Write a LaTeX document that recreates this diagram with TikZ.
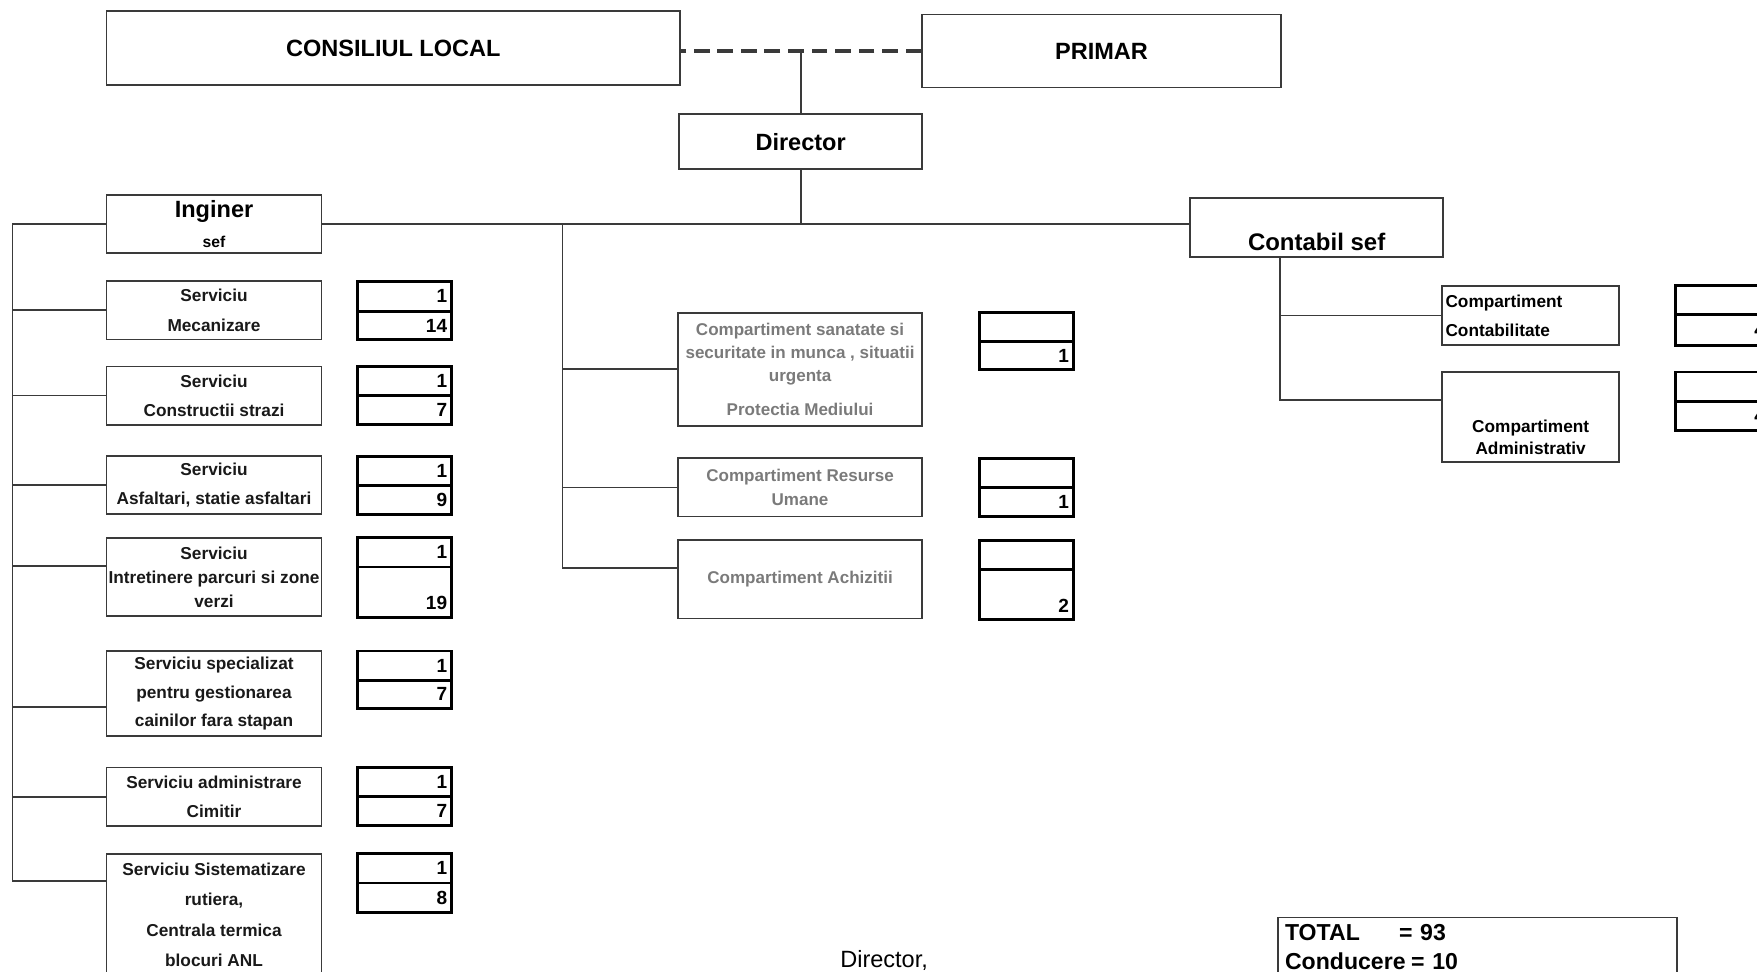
\documentclass[tikz,border=0pt]{standalone}
\usepackage{fontspec}
\setmainfont{Liberation Sans}
\usetikzlibrary{positioning}
\definecolor{linegray}{HTML}{3A3A3A}
\definecolor{txtgray}{HTML}{7A7A7A}
\begin{document}
\begin{tikzpicture}[x=0.5pt, y=-0.5pt, node distance=0pt,
  box/.style={draw=linegray, line width=0.8pt, inner sep=1pt, align=center},
  head/.style={box, font=\fontsize{10.5}{13}\selectfont\bfseries},
  serv/.style={box, inner xsep=0.5pt, minimum width=96pt, text=black!90, font=\fontsize{7.7}{13}\selectfont\bfseries},
  comp/.style={box, minimum width=109pt, text=txtgray, font=\fontsize{7.6}{10.3}\selectfont\bfseries},
  cell/.style={draw=black, line width=1.3pt, outer sep=0pt, inner sep=0pt, minimum width=42pt, minimum height=#1, text width=38pt, align=right, font=\fontsize{8.5}{10}\selectfont\bfseries},
  link/.style={draw=linegray, line width=0.8pt}]
\useasboundingbox (0,0) rectangle (1568,867);

\node[head, minimum width=256pt, minimum height=33pt] (consiliu) at (351,43) {CONSILIUL LOCAL};
\node[head, minimum width=160pt, minimum height=32.5pt] (primar) at (983,45.5) {PRIMAR};
\node[head, minimum width=108.5pt, minimum height=24.5pt] (director) at (714.5,126.5) {Director};
\node[head, minimum width=96pt, minimum height=26pt] (inginer) at (191,200) {Inginer\\{\fontsize{7}{8}\selectfont sef}};
\node[head, font=\fontsize{10.7}{12}\selectfont\bfseries, minimum width=113pt, minimum height=26pt, text height=20.5pt, text depth=0pt] (contabil) at (1175,203) {Contabil sef};

\draw[link, line width=1.5pt, dash pattern=on 7pt off 3.5pt] (primar.west) -- (primar.west -| consiliu.east);
\draw[link] (director.north) -- (director.north |- primar.west);
\draw[link] (director.south) -- (director.south |- inginer.east);
\draw[link] (inginer.east) -- (inginer.east -| contabil.west);

\node[serv, minimum height=26pt] (mecan) at (191,277) {Serviciu\\Mecanizare};
\node[serv, minimum height=26pt] (constr) at (191,353) {Serviciu\\Constructii strazi};
\node[serv, minimum height=26pt] (asfalt) at (191,433) {Serviciu\\Asfaltari, statie asfaltari};
\node[serv, minimum height=35pt, font=\fontsize{7.7}{10.75}\selectfont\bfseries] (intret) at (191,515) {Serviciu\\Intretinere parcuri si zone\\verzi};
\node[serv, minimum height=38pt, font=\fontsize{7.7}{12.75}\selectfont\bfseries] (caini) at (191,619) {Serviciu specializat\\pentru gestionarea\\cainilor fara stapan};
\node[serv, minimum height=26pt] (cimitir) at (191,711) {Serviciu administrare\\Cimitir};
\node[serv, minimum height=54.5pt, font=\fontsize{7.7}{13.5}\selectfont\bfseries] (sistem) at (191,816.5) {Serviciu Sistematizare\\rutiera,\\Centrala termica\\blocuri ANL};

\coordinate (lsp) at ([xshift=-41.5pt]inginer.west);
\coordinate (intretIn) at ([yshift=5pt]intret.west);
\coordinate (cainiIn) at ([yshift=-6pt]caini.west);
\coordinate (sistemIn) at ([yshift=15.25pt]sistem.west);
\draw[link] (inginer.west) -- (lsp) |- (sistemIn);
\draw[link] (lsp |- mecan.west) -- (mecan.west);
\draw[link] (lsp |- constr.west) -- (constr.west);
\draw[link] (lsp |- asfalt.west) -- (asfalt.west);
\draw[link] (lsp |- intretIn) -- (intretIn);
\draw[link] (lsp |- cainiIn) -- (cainiIn);
\draw[link] (lsp |- cimitir.west) -- (cimitir.west);

\node[cell=13.5pt] (c1a) at (361,264.5) {1};
\node[cell=12.5pt, below=of c1a] (c1b) {14};
\node[cell=13pt] (c2a) at (361,340) {1};
\node[cell=13pt, below=of c2a] (c2b) {7};
\node[cell=13pt] (c3a) at (361,420) {1};
\node[cell=13pt, below=of c3a] (c3b) {9};
\node[cell=13pt] (c4a) at (361,493) {1};
\node[cell=22.5pt, below=of c4a, text height=15.5pt, text depth=0pt] (c4b) {19};
\node[cell=13pt] (c5a) at (361,594) {1};
\node[cell=12.5pt, below=of c5a] (c5b) {7};
\node[cell=13pt] (c6a) at (361,698) {1};
\node[cell=13pt, below=of c6a] (c6b) {7};
\node[cell=13pt] (c7a) at (361,775) {1};
\node[cell=13pt, below=of c7a] (c7b) {8};

\node[comp, minimum height=50.5pt] (sanat) at (714,329.5) {Compartiment sanatate si\\securitate in munca , situatii\\urgenta\\[4.75pt]Protectia Mediului};
\node[comp, minimum height=26pt, font=\fontsize{7.6}{10.5}\selectfont\bfseries] (resurse) at (714,435) {Compartiment Resurse\\Umane};
\node[comp, minimum height=35pt] (achiz) at (714,517) {Compartiment Achizitii};

\coordinate (msp) at (502,200);
\coordinate (achizIn) at ([yshift=5pt]achiz.west);
\draw[link] (msp) |- (achizIn);
\draw[link] (msp |- sanat.west) -- (sanat.west);
\draw[link] (msp |- resurse.west) -- (resurse.west);

\node[cell=13pt] (m1a) at (916,292) {};
\node[cell=12.5pt, below=of m1a] (m1b) {1};
\node[cell=13pt] (m2a) at (916,422) {};
\node[cell=13pt, below=of m2a] (m2b) {1};
\node[cell=13pt] (m3a) at (916,495) {};
\node[cell=22.5pt, below=of m3a, text height=16.5pt, text depth=0pt] (m3b) {2};

\node[box, font=\fontsize{7.7}{13}\selectfont\bfseries, minimum width=79pt, minimum height=26.5pt, text width=76pt, align=left] (contab) at (1366,281.5) {Compartiment\\Contabilitate};
\node[box, font=\fontsize{7.7}{10}\selectfont\bfseries, minimum width=79pt, minimum height=40pt, text height=36pt, text depth=2pt] (admin) at (1366,372) {Compartiment\\Administrativ};

\coordinate (rsp) at ([xshift=-16.5pt]contabil.south);
\coordinate (adminIn) at ([yshift=7.5pt]admin.west);
\draw[link] (rsp) |- (adminIn);
\draw[link] (rsp |- contab.west) -- (contab.west);

\node[cell=13pt] (r1a) at (1537,268) {};
\node[cell=13.5pt, below=of r1a] (r1b) {4};
\node[cell=13pt] (r2a) at (1537,345) {};
\node[cell=13pt, below=of r2a] (r2b) {4};

\node[font=\fontsize{10.5}{12}\selectfont] (semn) at (789,857) {Director,};
\node[box, anchor=north west, inner sep=3pt, text width=172pt, align=left, text depth=30pt, font=\fontsize{10.3}{13}\selectfont\bfseries] (total) at (1140,818) {TOTAL\hspace{17.5pt}= 93\\Conducere\hspace{2.5pt}= 10};
\end{tikzpicture}
\end{document}
